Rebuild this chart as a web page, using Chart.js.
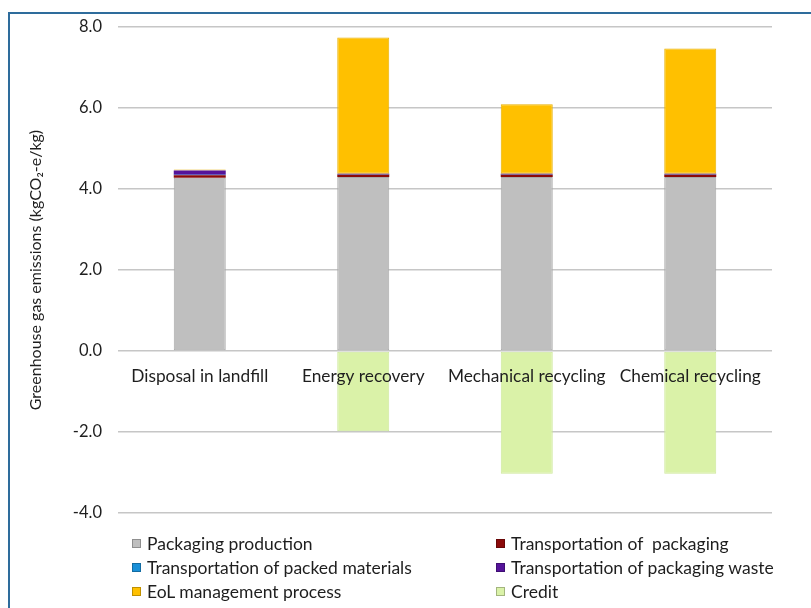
<!DOCTYPE html>
<html>
<head>
<meta charset="utf-8">
<script src="https://cdn.jsdelivr.net/npm/chart.js@4.4.1/dist/chart.umd.min.js"></script>
<style>
  html, body { margin: 0; padding: 0; background: #fff; }
  body { width: 811px; height: 608px; position: relative; overflow: hidden; font-family: Lato, "Open Sans", sans-serif; }
  #frame { position: absolute; left: 8px; top: 12px; width: 900px; height: 700px; border-left: 2px solid #2e6c9c; border-top: 2px solid #2e6c9c; }
  #wrap { position: absolute; left: 0; top: 0; width: 811px; height: 539px; }
  #legend { position: absolute; left: 132px; top: 533px; width: 680px; display: grid; grid-template-columns: 364px 310px; row-gap: 4px; }
  .item { display: flex; align-items: center; font-size: 17.5px; color: #1e1e1e; height: 20px; white-space: pre; }
  .box { width: 9px; height: 9px; margin-right: 6px; box-sizing: border-box; border: 1px solid rgba(0,0,0,0.25); }
</style>
</head>
<body>
<div id="frame"></div>
<div id="wrap"><canvas id="ghg_chart"></canvas></div>
<div id="legend"></div>
<script>
const categories = ['Disposal in landfill', 'Energy recovery', 'Mechanical recycling', 'Chemical recycling'];
const packagingProduction = [4.28, 4.30, 4.30, 4.30];
const transportPackaging = [0.06, 0.05, 0.05, 0.05];
const transportPacked = [0.01, 0.01, 0.01, 0.01];
const transportWaste = [0.11, 0.02, 0.02, 0.02];
const eolProcess = [0.02, 3.36, 1.71, 3.09];
const credit = [0, -1.98, -3.03, -3.03];
const yTicks = [-4, -2, 0, 2, 4, 6, 8];

function series(label, data, color, border, bw) {
    return {
        label: label,
        data: data,
        backgroundColor: color,
        borderColor: border,
        borderWidth: bw,
        borderSkipped: false,
        barPercentage: 0.318,
        categoryPercentage: 1
    };
}

const ctx = document.getElementById('ghg_chart').getContext('2d');
const ghg_chart = new Chart(ctx, {
    type: 'bar',
    data: {
        labels: categories,
        datasets: [
            series('Packaging production', packagingProduction, '#bfbfbf', '#a9a9a9', 1),
            series('Transportation of  packaging', transportPackaging, '#8b0a0a', '#8b0a0a', 0),
            series('Transportation of packed materials', transportPacked, '#1a90d8', '#1a90d8', 0),
            series('Transportation of packaging waste', transportWaste, '#55139a', '#55139a', 0),
            series('EoL management process', eolProcess, '#ffc000', '#e8b000', 1),
            series('Credit', credit, '#daf2a8', '#cde89a', 1)
        ]
    },
    options: {
        responsive: true,
        maintainAspectRatio: false,
        animation: false,
        layout: {
            padding: { left: 26, right: 39, top: 27, bottom: 17 }
        },
        plugins: {
            legend: { display: false },
            tooltip: { enabled: false }
        },
        scales: {
            x: {
                stacked: true,
                position: { y: 0 },
                grid: { display: false },
                border: { display: false },
                ticks: {
                    z: 1,
                    color: '#1e1e1e',
                    padding: 7,
                    maxRotation: 0,
                    font: { family: 'Lato', size: 17.3 }
                }
            },
            y: {
                stacked: true,
                min: -4,
                max: 8,
                afterBuildTicks: (scale) => {
                    scale.ticks = yTicks.map(v => ({ value: v }));
                },
                afterFit: (scale) => {
                    scale.width = 92;
                },
                grid: {
                    color: '#c6c6c6',
                    lineWidth: 1.5,
                    drawTicks: false
                },
                border: { display: false },
                ticks: {
                    color: '#1e1e1e',
                    padding: 16,
                    font: { family: 'Lato', size: 16.5 },
                    callback: (v) => Number(v).toFixed(1)
                },
                title: {
                    display: true,
                    text: 'Greenhouse gas emissions (kgCO\u2082-e/kg)',
                    color: '#1e1e1e',
                    padding: { top: 0, bottom: 0 },
                    font: { family: 'Lato', size: 16 }
                }
            }
        }
    }
});

// legend in two columns, built from the datasets
const legendEl = document.getElementById('legend');
ghg_chart.data.datasets.forEach(ds => {
    const item = document.createElement('div');
    item.className = 'item';
    const box = document.createElement('span');
    box.className = 'box';
    box.style.background = ds.backgroundColor;
    item.appendChild(box);
    item.appendChild(document.createTextNode(ds.label));
    legendEl.appendChild(item);
});
</script>
</body>
</html>
